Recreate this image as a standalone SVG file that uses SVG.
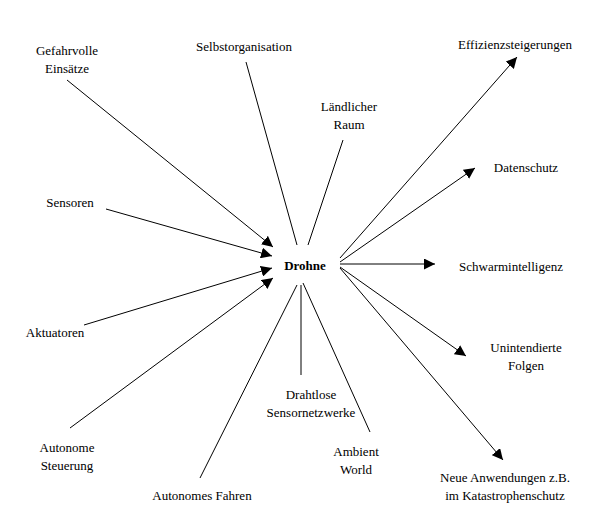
<svg xmlns="http://www.w3.org/2000/svg" width="600" height="527" viewBox="0 0 600 527" font-family="'Liberation Serif', 'DejaVu Serif', serif" font-size="13">
<style>
text{font-family:'Liberation Serif','DejaVu Serif',serif;font-size:13px;fill:#000;text-anchor:middle}
.b{font-weight:bold}
line{stroke:#000;stroke-width:1}
.a{marker-end:url(#ar)}
</style>
<defs><marker id="ar" viewBox="0 0 10 10" refX="10" refY="5" markerWidth="11" markerHeight="11" markerUnits="userSpaceOnUse" orient="auto"><path d="M0,0L10,5L0,10z" fill="#000"/></marker></defs>
<rect width="600" height="527" fill="#fff"/>
<g id="connectors">
<line class="a" x1="67" y1="80" x2="273" y2="247"/>
<line x1="246" y1="62" x2="297" y2="245"/>
<line x1="343" y1="140" x2="308" y2="245"/>
<line class="a" x1="340" y1="258" x2="517" y2="57"/>
<line class="a" x1="340" y1="262" x2="475" y2="168"/>
<line class="a" x1="106" y1="209" x2="272" y2="256"/>
<line class="a" x1="340" y1="264" x2="435" y2="264"/>
<line class="a" x1="84" y1="325" x2="272" y2="268"/>
<line class="a" x1="340" y1="267" x2="466" y2="356"/>
<line class="a" x1="70" y1="428" x2="273" y2="278"/>
<line x1="301" y1="375" x2="301" y2="285"/>
<line x1="370" y1="432" x2="303" y2="283"/>
<line x1="200" y1="478" x2="297" y2="285"/>
<line class="a" x1="340" y1="268" x2="503" y2="460"/>
</g>
<g id="drohne"><text class="b" x="305" y="270">Drohne</text></g>
<g id="gefahrvolle"><text x="67" y="55">Gefahrvolle</text><text x="67" y="73">Einsätze</text></g>
<g id="selbst"><text x="244" y="51">Selbstorganisation</text></g>
<g id="laendlich"><text x="349" y="111">Ländlicher</text><text x="349" y="129">Raum</text></g>
<g id="effizienz"><text x="515" y="49">Effizienzsteigerungen</text></g>
<g id="datenschutz"><text x="526" y="172">Datenschutz</text></g>
<g id="sensoren"><text x="70" y="207">Sensoren</text></g>
<g id="schwarm"><text x="511" y="271">Schwarmintelligenz</text></g>
<g id="aktuatoren"><text x="55" y="337">Aktuatoren</text></g>
<g id="unintendiert"><text x="526" y="352">Unintendierte</text><text x="526" y="370">Folgen</text></g>
<g id="autsteuerung"><text x="67" y="452">Autonome</text><text x="67" y="470">Steuerung</text></g>
<g id="drahtlos"><text x="311" y="399">Drahtlose</text><text x="311" y="417">Sensornetzwerke</text></g>
<g id="ambient"><text x="356" y="456">Ambient</text><text x="356" y="474">World</text></g>
<g id="fahren"><text x="202" y="500">Autonomes Fahren</text></g>
<g id="neue"><text x="505" y="482">Neue Anwendungen z.B.</text><text x="505" y="500">im Katastrophenschutz</text></g>
</svg>
